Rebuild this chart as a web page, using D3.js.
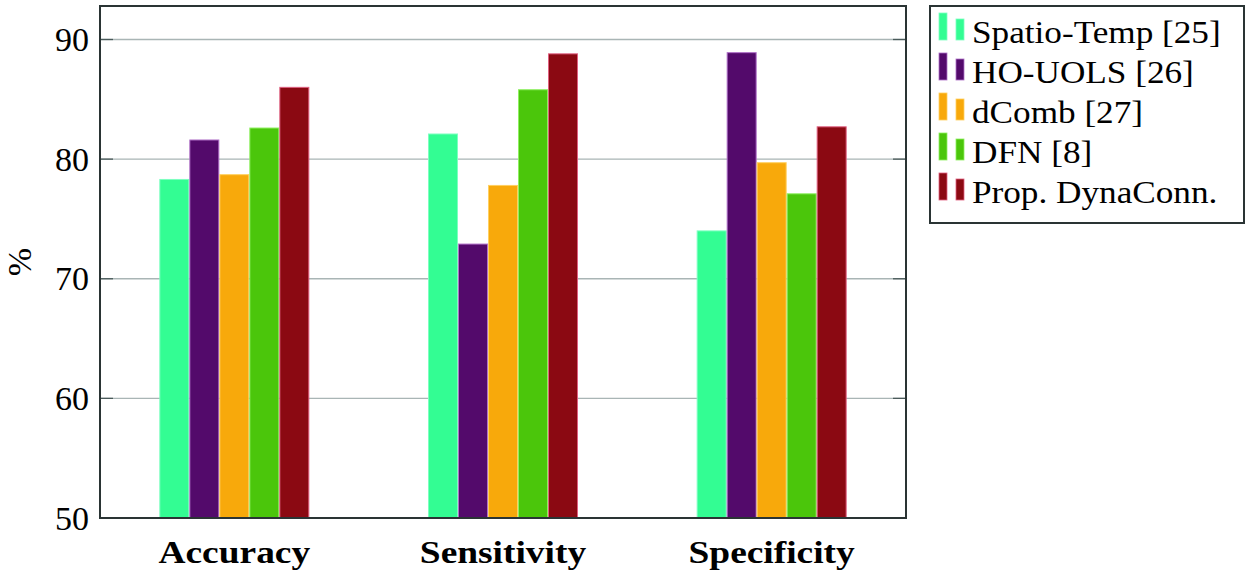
<!DOCTYPE html>
<html>
<head>
  <meta charset="UTF-8">
  <script src="https://d3js.org/d3.v7.min.js"></script>
</head>
<body style="margin:0">
  <script>
    const width = 1250;
    const height = 578;
    const serif = "Liberation Serif";

    // data
    const categories = ["Accuracy", "Sensitivity", "Specificity"];
    const seriesNames = ["Spatio-Temp [25]", "HO-UOLS [26]", "dComb [27]", "DFN [8]", "Prop. DynaConn."];
    const spatioTemp = [78.3, 82.1, 74.0];
    const hoUols = [81.6, 72.9, 88.9];
    const dComb = [78.7, 77.8, 79.7];
    const dfn = [82.6, 85.8, 77.1];
    const propDynaConn = [86.0, 88.8, 82.7];
    const yTicks = [50, 60, 70, 80, 90];

    const seriesValues = [spatioTemp, hoUols, dComb, dfn, propDynaConn];
    const colors = ["#33fd93", "#530a6b", "#f8a90b", "#4bc60b", "#8b0912"];
    const borders = ["#7dffc0", "#b070c8", "#ffd060", "#8ef060", "#e06080"];

    const margin = { left: 100, right: 344, top: 6, bottom: 60 };
    const plotW = width - margin.left - margin.right;
    const plotH = height - margin.top - margin.bottom;

    // CM is wider than Liberation Serif, so stretch text about its anchor
    function stretch(cx, k) {
      return `translate(${cx},0) scale(${k},1) translate(${-cx},0)`;
    }

    const svg = d3.select("body")
      .append("svg")
      .attr("width", width)
      .attr("height", height);

    const x0 = d3.scaleBand()
      .domain(categories)
      .range([margin.left, margin.left + plotW]);

    const x1 = d3.scaleBand()
      .domain(d3.range(seriesNames.length))
      .range([0, 150]);

    const y = d3.scaleLinear()
      .domain([50, 92.8])
      .range([margin.top + plotH, margin.top]);

    // grid lines
    svg.append("g")
      .selectAll("line")
      .data(yTicks.slice(1))
      .enter()
      .append("line")
      .attr("x1", margin.left)
      .attr("x2", margin.left + plotW)
      .attr("y1", d => y(d))
      .attr("y2", d => y(d))
      .attr("stroke", "#a9b5b5")
      .attr("stroke-width", 1.3);

    // bars
    const flat = [];
    categories.forEach((c, ci) => seriesValues.forEach((vals, si) => flat.push({ c, si, v: vals[ci] })));
    svg.append("g")
      .selectAll("rect")
      .data(flat)
      .enter()
      .append("rect")
      .attr("x", d => x0(d.c) + x0.bandwidth() / 2 - 75 + x1(d.si) + 0.5)
      .attr("width", x1.bandwidth() - 1)
      .attr("y", d => y(d.v))
      .attr("height", d => y(50) - y(d.v))
      .attr("fill", d => colors[d.si])
      .attr("stroke", d => borders[d.si])
      .attr("stroke-width", 1);

    // y ticks, drawn inward on both sides
    svg.append("g")
      .selectAll("line")
      .data(yTicks)
      .enter()
      .append("line")
      .attr("x1", margin.left).attr("x2", margin.left + 13)
      .attr("y1", d => y(d)).attr("y2", d => y(d))
      .attr("stroke", "#4a5a5a").attr("stroke-width", 1.3);
    svg.append("g")
      .selectAll("line")
      .data(yTicks.slice(1))
      .enter()
      .append("line")
      .attr("x1", margin.left + plotW - 13).attr("x2", margin.left + plotW)
      .attr("y1", d => y(d)).attr("y2", d => y(d))
      .attr("stroke", "#4a5a5a").attr("stroke-width", 1.3);

    // frame
    svg.append("rect")
      .attr("x", margin.left)
      .attr("y", margin.top)
      .attr("width", plotW)
      .attr("height", plotH)
      .attr("fill", "none")
      .attr("stroke", "#2a3434")
      .attr("stroke-width", 2);

    // legend box and swatches
    const legX = 930, legY = 6;
    svg.append("rect")
      .attr("x", legX).attr("y", legY)
      .attr("width", 314)
      .attr("height", 217)
      .attr("fill", "white")
      .attr("stroke", "#2a3434")
      .attr("stroke-width", 2);

    svg.append("g")
      .selectAll("rect")
      .data(seriesNames)
      .enter()
      .append("rect")
      .attr("x", legX + 9).attr("y", (d, i) => legY + 7 + i * 40)
      .attr("width", 8).attr("height", 27)
      .attr("fill", (d, i) => colors[i])
      .attr("stroke", (d, i) => borders[i]).attr("stroke-width", 0.8);
    svg.append("g")
      .selectAll("rect")
      .data(seriesNames)
      .enter()
      .append("rect")
      .attr("x", legX + 26).attr("y", (d, i) => legY + 13 + i * 40)
      .attr("width", 8).attr("height", 21)
      .attr("fill", (d, i) => colors[i])
      .attr("stroke", (d, i) => borders[i]).attr("stroke-width", 0.8);

    // all text placed directly in the svg
    seriesNames.forEach((name, i) => {
      svg.append("text")
        .attr("x", legX + 42)
        .attr("y", legY + 37 + i * 40)
        .attr("font-family", serif)
        .style("font-size", "32px")
        .attr("transform", stretch(legX + 42, 1.1))
        .text(name);
    });

    yTicks.forEach(t => {
      svg.append("text")
        .attr("x", margin.left - 11)
        .attr("y", y(t) + 11.5)
        .attr("text-anchor", "end")
        .attr("font-family", serif)
        .style("font-size", "34px")
        .text(t);
    });

    categories.forEach(c => {
      const cx = x0(c) + x0.bandwidth() / 2;
      svg.append("text")
        .attr("x", cx)
        .attr("y", margin.top + plotH + 45)
        .attr("text-anchor", "middle")
        .attr("font-family", serif)
        .attr("font-weight", "bold")
        .style("font-size", "32px")
        .attr("transform", stretch(cx, 1.17))
        .text(c);
    });

    svg.append("text")
      .attr("transform", `translate(31,${margin.top + plotH / 2}) rotate(-90)`)
      .attr("text-anchor", "middle")
      .attr("font-family", serif)
      .style("font-size", "34px")
      .text("%");
  </script>
</body>
</html>
